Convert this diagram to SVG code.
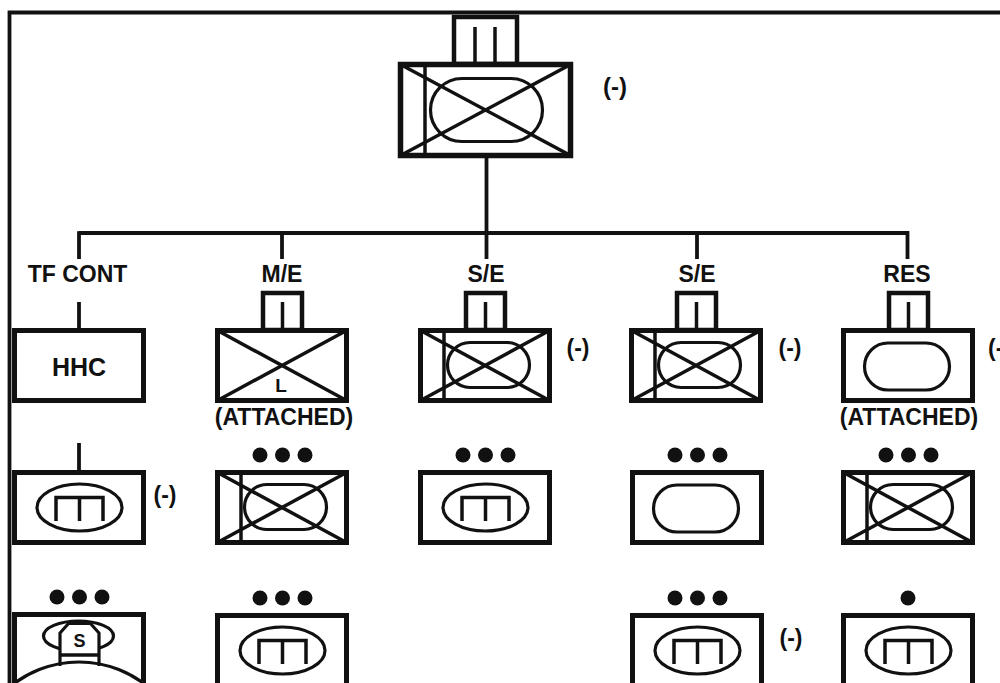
<svg xmlns="http://www.w3.org/2000/svg" xmlns:xlink="http://www.w3.org/1999/xlink" width="1000" height="683" viewBox="0 0 1000 683">
<style>
.frame{fill:#fff;stroke:#111;stroke-width:5}
.thin{fill:none;stroke:#111;stroke-width:3.5}
.oval{fill:none;stroke:#111;stroke-width:3.2}
.conn{fill:none;stroke:#111;stroke-width:3.8}
.flag{fill:#fff;stroke:#111;stroke-width:4.5}
.lbl{font-family:"Liberation Sans",Arial,Helvetica,sans-serif;font-weight:bold;fill:#111;text-anchor:middle}
.t22{font-size:23px}
.dot{fill:#111}
</style>
<defs>
<rect id="frame" class="frame" x="2.5" y="2.5" width="129" height="70"/>
<rect id="frameTall" class="frame" x="2.5" y="2.5" width="129" height="140"/>
<g id="xcross" class="thin">
<line x1="2.5" y1="2.5" x2="131.5" y2="72.5"/>
<line x1="2.5" y1="72.5" x2="131.5" y2="2.5"/>
<line x1="26" y1="2.5" x2="26" y2="72.5"/>
</g>
<rect id="mechOval" class="oval" x="29.5" y="14.5" width="82" height="45" rx="22.5"/>
<rect id="armorOval" class="oval" x="23.5" y="15" width="85" height="47" rx="23.5"/>
<g id="combOval">
<ellipse class="oval" cx="67.5" cy="37.5" rx="42.5" ry="23.5"/>
<path class="thin" d="M44 51 V27.5 H91 V51 M67.5 27.5 V51"/>
</g>
<g id="flag">
<rect class="flag" x="48" y="-35" width="39" height="37"/>
<line class="thin" x1="67.5" y1="-26" x2="67.5" y2="0"/>
</g>
<g id="dots3">
<circle class="dot" cx="45" cy="-15" r="7.5"/>
<circle class="dot" cx="67.5" cy="-15" r="7.5"/>
<circle class="dot" cx="90" cy="-15" r="7.5"/>
</g>
</defs>

<g id="border">
<path class="conn" d="M9.5 683 V12.5 H1000"/>
</g>

<g id="connectors">
<line class="conn" x1="486.5" y1="158" x2="486.5" y2="233"/>
<line class="conn" x1="79" y1="233" x2="909" y2="233"/>
<line class="conn" x1="79" y1="231.2" x2="79" y2="259"/>
<line class="conn" x1="282" y1="233" x2="282" y2="259"/>
<line class="conn" x1="486.5" y1="233" x2="486.5" y2="259"/>
<line class="conn" x1="697" y1="233" x2="697" y2="259"/>
<line class="conn" x1="907.5" y1="231.2" x2="907.5" y2="259"/>
<line class="conn" x1="79" y1="302" x2="79" y2="328"/>
<line class="conn" x1="79" y1="443" x2="79" y2="470"/>
</g>

<g id="top-node">
<rect class="flag" x="454" y="17" width="63" height="47"/>
<line class="thin" x1="475" y1="27" x2="475" y2="62"/>
<line class="thin" x1="495" y1="27" x2="495" y2="62"/>
<rect fill="#fff" stroke="#111" stroke-width="5.5" x="400.5" y="64.5" width="170" height="91"/>
<g class="thin">
<line x1="400.5" y1="64.5" x2="570.5" y2="155.5"/>
<line x1="400.5" y1="155.5" x2="570.5" y2="64.5"/>
<line x1="425" y1="64.5" x2="425" y2="155.5"/>
</g>
<rect class="oval" x="430.5" y="78.5" width="112" height="63" rx="31.5"/>
<text class="lbl" x="615" y="95" font-size="24">(-)</text>
</g>

<g id="labels" class="lbl t22">
<text x="77.5" y="282">TF CONT</text>
<text x="282" y="282">M/E</text>
<text x="486" y="282">S/E</text>
<text x="697" y="282">S/E</text>
<text x="907" y="282">RES</text>
</g>

<g id="hhc" transform="translate(12,328)">
<use xlink:href="#frame"/>
<text class="lbl" x="67" y="48" font-size="25">HHC</text>
</g>

<g id="me-node" transform="translate(215,328)">
<use xlink:href="#flag"/>
<use xlink:href="#frame"/>
<g class="thin">
<line x1="2.5" y1="2.5" x2="131.5" y2="72.5"/>
<line x1="2.5" y1="72.5" x2="131.5" y2="2.5"/>
</g>
<text class="lbl" x="66" y="64" font-size="19">L</text>
<text class="lbl t22" x="69" y="97">(ATTACHED)</text>
</g>

<g id="se1-node" transform="translate(418,328)">
<use xlink:href="#flag"/>
<use xlink:href="#frame"/>
<use xlink:href="#mechOval"/>
<use xlink:href="#xcross"/>
<text class="lbl t22" x="160" y="28">(-)</text>
</g>

<g id="se2-node" transform="translate(629,328)">
<use xlink:href="#flag"/>
<use xlink:href="#frame"/>
<use xlink:href="#mechOval"/>
<use xlink:href="#xcross"/>
<text class="lbl t22" x="161" y="28">(-)</text>
</g>

<g id="res-node" transform="translate(841,328)">
<use xlink:href="#flag"/>
<use xlink:href="#frame"/>
<use xlink:href="#armorOval"/>
<text class="lbl t22" x="68" y="97">(ATTACHED)</text>
<text class="lbl t22" x="147" y="28" style="text-anchor:start">(-)</text>
</g>

<g id="r2c1" transform="translate(12,470)">
<use xlink:href="#frame"/>
<use xlink:href="#combOval"/>
<text class="lbl t22" x="153" y="33">(-)</text>
</g>

<g id="r2c2" transform="translate(215,470)">
<use xlink:href="#dots3"/>
<use xlink:href="#frame"/>
<use xlink:href="#mechOval"/>
<use xlink:href="#xcross"/>
</g>

<g id="r2c3" transform="translate(418,470)">
<use xlink:href="#dots3"/>
<use xlink:href="#frame"/>
<use xlink:href="#combOval"/>
</g>

<g id="r2c4" transform="translate(630,470)">
<use xlink:href="#dots3"/>
<use xlink:href="#frame"/>
<use xlink:href="#armorOval"/>
</g>

<g id="r2c5" transform="translate(841,470)">
<use xlink:href="#dots3"/>
<use xlink:href="#frame"/>
<use xlink:href="#mechOval"/>
<use xlink:href="#xcross"/>
</g>

<g id="r3c1" transform="translate(12,612)">
<use xlink:href="#dots3"/>
<use xlink:href="#frameTall"/>
<ellipse class="oval" cx="66.5" cy="24" rx="35" ry="15"/>
<path fill="#fff" stroke="#111" stroke-width="3.2" d="M48 54 V21 L56.5 11.5 H78.5 L87 21 V54"/>
<line class="thin" x1="48" y1="43" x2="87" y2="43"/>
<circle class="oval" cx="67" cy="158" r="108"/>
<text class="lbl" x="67.5" y="35" font-size="18">S</text>
</g>

<g id="r3c2" transform="translate(215,613)">
<use xlink:href="#dots3"/>
<use xlink:href="#frameTall"/>
<use xlink:href="#combOval"/>
</g>

<g id="r3c4" transform="translate(630,613)">
<use xlink:href="#dots3"/>
<use xlink:href="#frameTall"/>
<use xlink:href="#combOval"/>
<text class="lbl t22" x="161" y="33">(-)</text>
</g>

<g id="r3c5" transform="translate(841,613)">
<circle class="dot" cx="67" cy="-15" r="7.5"/>
<use xlink:href="#frameTall"/>
<use xlink:href="#combOval"/>
</g>
</svg>
